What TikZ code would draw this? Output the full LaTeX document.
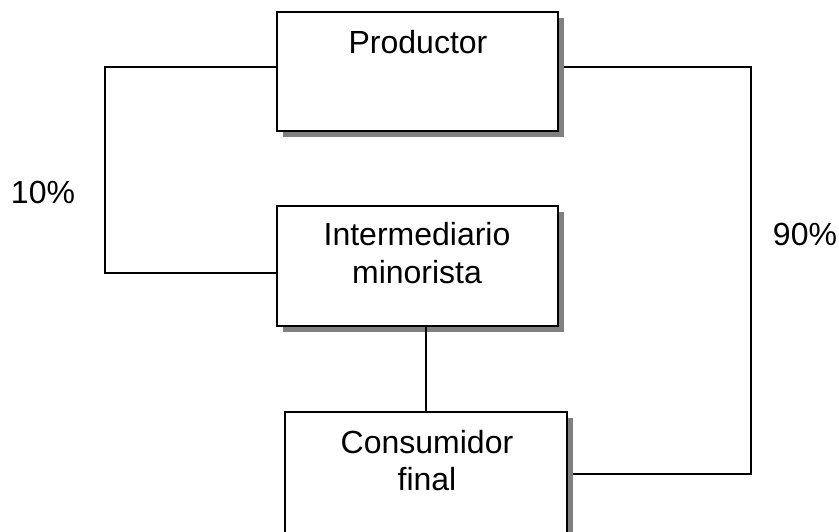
\documentclass[tikz,border=0pt]{standalone}
\usepackage{fontspec}
\setmainfont{Liberation Sans}
\usetikzlibrary{shadows}
\begin{document}
\begin{tikzpicture}[x=1pt,y=-1pt,
  box/.style={draw=black, line width=1.3pt, fill=white, rectangle, inner sep=0pt,
    drop shadow={shadow xshift=5.5pt, shadow yshift=-5.5pt, fill=black!50, opacity=1}},
  lbl/.style={font=\fontsize{32}{38}\selectfont, anchor=base, inner sep=0pt},
  link/.style={draw=black, line width=1.2pt}]
  \useasboundingbox (0,0) rectangle (839,531);
  \clip (0,0) rectangle (839,531);

  % boxes
  \node[box, minimum width=281pt, minimum height=119pt] (prod) at (417.5,71.5) {};
  \node[box, minimum width=281pt, minimum height=120pt] (inter) at (417.5,266) {};
  \node[box, minimum width=282pt, minimum height=124pt] (cons) at (426,474) {};

  % box texts
  \node[lbl] (tprod) at (418,53) {Productor};
  \node[lbl] (tint1) at (417,245) {Intermediario};
  \node[lbl] (tint2) at (417,283) {minorista};
  \node[lbl] (tcon1) at (427,453) {Consumidor};
  \node[lbl] (tcon2) at (427,490) {final};

  % side labels
  \node[lbl] (p10) at (43,203) {10\%};
  \node[lbl] (p90) at (805,245) {90\%};

  % connectors
  \coordinate (lt) at (105,67);
  \coordinate (rt) at (751,67);
  \draw[link] ([yshift=4.5pt]prod.west) -- (lt) |- ([yshift=-7pt]inter.west);
  \draw[link] ([yshift=4.5pt,xshift=5.5pt]prod.east) -- (rt) |- ([xshift=5.5pt]cons.east);
  \draw[link] (cons.north) -- (cons.north |- inter.south);
\end{tikzpicture}
\end{document}
